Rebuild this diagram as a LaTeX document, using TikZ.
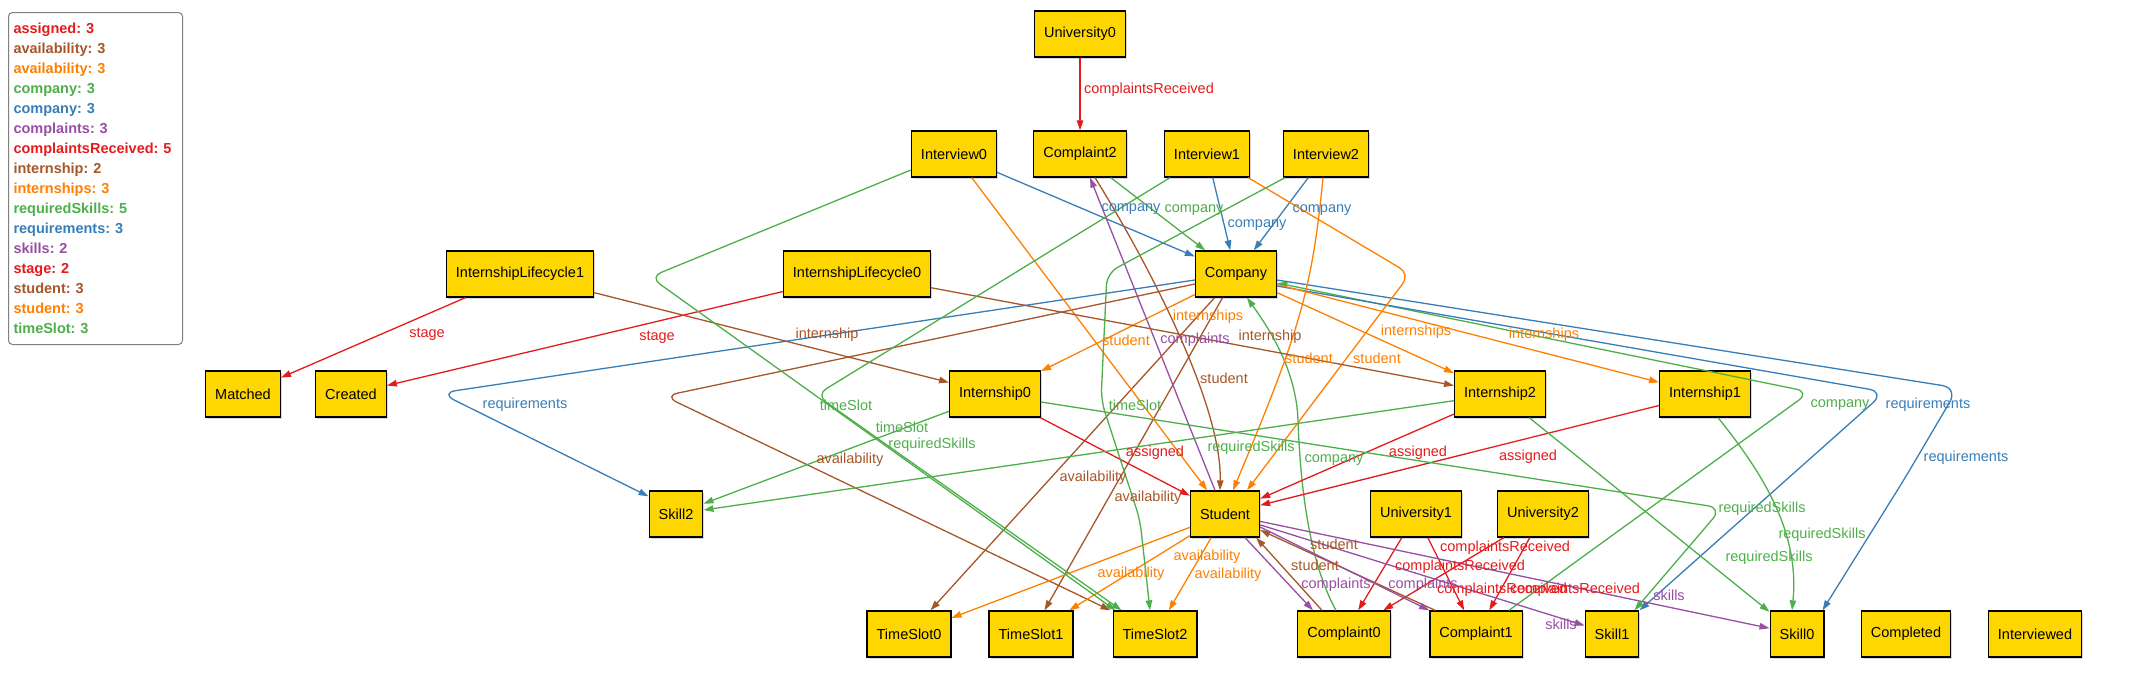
\documentclass[tikz,border=0pt]{standalone}
\usepackage{fontspec}
\setmainfont{Liberation Sans}
\usepackage{tikz}
\usetikzlibrary{arrows.meta, shadows}
\definecolor{cred}{HTML}{E41A1C}
\definecolor{cblue}{HTML}{377EB8}
\definecolor{cgreen}{HTML}{4DAF4A}
\definecolor{cpurple}{HTML}{984EA3}
\definecolor{corange}{HTML}{FF7F00}
\definecolor{cbrown}{HTML}{A65628}
\definecolor{gold}{HTML}{FFD700}
\frenchspacing

\tikzset{
  ent/.style={draw=black, line width=1.3pt, fill=gold, minimum height=46pt, inner xsep=9.5pt,
    font=\fontsize{14.5}{17}\selectfont,
    drop shadow={shadow xshift=1.5pt, shadow yshift=-1.5pt, opacity=0.3}},
  rel/.style={line width=1.3pt, -{Triangle[length=10pt,width=6.5pt]}},
  lbl/.style={inner sep=0pt, font=\fontsize{14.5}{17}\selectfont},
}

\begin{document}
\begin{tikzpicture}[x=1pt, y=-1pt]
    \useasboundingbox (0,0) rectangle (2140,680);

    % legend
    \node[draw=gray, line width=1pt, rounded corners=4pt, anchor=north west,
      minimum width=174pt, minimum height=332pt, text width=164pt, inner xsep=5pt,
      align=left, font=\fontsize{14.5}{20}\selectfont\bfseries] (legend) at (8,12) {%
      \textcolor{cred}{assigned: 3}\\
      \textcolor{cbrown}{availability: 3}\\
      \textcolor{corange}{availability: 3}\\
      \textcolor{cgreen}{company: 3}\\
      \textcolor{cblue}{company: 3}\\
      \textcolor{cpurple}{complaints: 3}\\
      \textcolor{cred}{complaintsReceived: 5}\\
      \textcolor{cbrown}{internship: 2}\\
      \textcolor{corange}{internships: 3}\\
      \textcolor{cgreen}{requiredSkills: 5}\\
      \textcolor{cblue}{requirements: 3}\\
      \textcolor{cpurple}{skills: 2}\\
      \textcolor{cred}{stage: 2}\\
      \textcolor{cbrown}{student: 3}\\
      \textcolor{corange}{student: 3}\\
      \textcolor{cgreen}{timeSlot: 3}};

    % objects
    \node[ent] (U0) at (1080,34) {University0};
    \node[ent] (Iv0) at (954,154) {Interview0};
    \node[ent] (C2) at (1080,154) {Complaint2};
    \node[ent] (Iv1) at (1207,154) {Interview1};
    \node[ent] (Iv2) at (1326,154) {Interview2};
    \node[ent] (IL1) at (520,274) {InternshipLifecycle1};
    \node[ent] (IL0) at (857,274) {InternshipLifecycle0};
    \node[ent] (Co) at (1236,274) {Company};
    \node[ent] (Mt) at (243,394) {Matched};
    \node[ent] (Cr) at (351,394) {Created};
    \node[ent] (In0) at (995,394) {Internship0};
    \node[ent] (In2) at (1500,394) {Internship2};
    \node[ent] (In1) at (1705,394) {Internship1};
    \node[ent] (Sk2) at (676,514) {Skill2};
    \node[ent] (St) at (1225,514) {Student};
    \node[ent] (U1) at (1416,514) {University1};
    \node[ent] (U2) at (1543,514) {University2};
    \node[ent] (T0) at (909,634) {TimeSlot0};
    \node[ent] (T1) at (1031,634) {TimeSlot1};
    \node[ent] (T2) at (1155,634) {TimeSlot2};
    \node[ent] (C0) at (1344,634) {Complaint0};
    \node[ent] (C1) at (1476,634) {Complaint1};
    \node[ent] (Sk1) at (1612,634) {Skill1};
    \node[ent] (Sk0) at (1797,634) {Skill0};
    \node[ent] (Cp) at (1906,634) {Completed};
    \node[ent] (Ivd) at (2035,634) {Interviewed};

    % complaintsReceived
    \draw[rel, cred] (U0) -- (C2);
    \draw[rel, cred] (U1) -- (C0);
    \draw[rel, cred] (U1) -- (C1);
    \draw[rel, cred] (U2) -- (C0);
    \draw[rel, cred] (U2) -- (C1);

    % company
    \draw[rel, cblue] (Iv0) -- (Co);
    \draw[rel, cblue] (Iv1) -- (Co);
    \draw[rel, cblue] (Iv2) -- (Co);
    \draw[rel, cgreen] (C2) -- (Co);
    \draw[rel, cgreen] ([xshift=-8pt]C0.north) .. controls (1308,560) and (1300,480) .. (1298,420)
      .. controls (1296,370) and (1270,330) .. ([xshift=11pt]Co.south);
    \draw[rel, cgreen, rounded corners=14pt] ([xshift=-14pt]C1.north east) -- (1810,392) -- ([yshift=-9pt]Co.east);

    % requirements
    \draw[rel, cblue, rounded corners=16pt] ([yshift=-6pt]Co.east) -- (1958,388) -- (1905,478) -- ([xshift=-2pt]Sk0.north east);
    \draw[rel, cblue, rounded corners=16pt] ([yshift=-12pt]Co.east) -- (1885,392) -- (Sk1.north east);
    \draw[rel, cblue, rounded corners=16pt] ([yshift=-6pt]Co.west) -- (440,393) -- ([yshift=-6pt]Sk2.north west);

    % availability
    \draw[rel, cbrown, rounded corners=14pt] ([yshift=-10pt]Co.west) -- (664,396) -- ([xshift=-2pt]T2.north west);
    \draw[rel, cbrown] (Co) -- (T0);
    \draw[rel, cbrown] (Co) -- (T1);
    \draw[rel, corange] (St) -- (T0);
    \draw[rel, corange] (St) -- (T1);
    \draw[rel, corange] (St) -- (T2);

    % internships
    \draw[rel, corange] (Co) -- (In0);
    \draw[rel, corange] (Co) -- (In2);
    \draw[rel, corange] (Co) -- (In1);

    % student
    \draw[rel, corange] (Iv0) -- (St);
    \draw[rel, corange] ([xshift=-3pt]Iv2.south) .. controls (1312,290) and (1300,330) .. ([xshift=8pt]St.north);
    \draw[rel, corange, rounded corners=12pt] ([xshift=-2pt]Iv1.south east) -- (1410,274) -- ([xshift=22pt]St.north);
    \draw[rel, cbrown] ([xshift=15pt]C2.south) .. controls (1140,250) and (1222,400) .. ([xshift=-5pt]St.north);
    \draw[rel, cbrown] ([xshift=-22pt]C0.north) -- ([xshift=-4pt]St.south east);
    \draw[rel, cbrown] ([xshift=6pt]C1.north west) -- ([yshift=-16pt]St.east);

    % complaints
    \draw[rel, cpurple] ([xshift=-10pt]St.north) -- ([xshift=10pt]C2.south);
    \draw[rel, cpurple] ([xshift=20pt]St.south) -- ([xshift=-31pt]C0.north);
    \draw[rel, cpurple] ([yshift=-13pt]St.east) -- (C1.north west);

    % skills
    \draw[rel, cpurple] (St) -- (Sk1);
    \draw[rel, cpurple] (St) -- (Sk0);

    % assigned
    \draw[rel, cred] (In0) -- (St);
    \draw[rel, cred] (In2) -- (St);
    \draw[rel, cred] (In1) -- (St);

    % stage, internship
    \draw[rel, cred] (IL1) -- (Mt);
    \draw[rel, cred] (IL0) -- (Cr);
    \draw[rel, cbrown] (IL1) -- (In0);
    \draw[rel, cbrown] (IL0) -- (In2);

    % timeSlot
    \draw[rel, cgreen, rounded corners=12pt] ([yshift=-16pt]Iv0.west) -- (650,277) -- ([xshift=3pt]T2.north west);
    \draw[rel, cgreen, rounded corners=12pt] ([xshift=-37pt]Iv1.south) -- (816,395) -- ([xshift=9pt]T2.north west);
    \draw[rel, cgreen, rounded corners=12pt] ([xshift=-41pt]Iv2.south) -- (1107,273) -- (1101,400) -- (1140,520) -- ([xshift=-5pt]T2.north);

    % requiredSkills
    \draw[rel, cgreen] (In0) -- (Sk2);
    \draw[rel, cgreen] (In2) -- (Sk2);
    \draw[rel, cgreen, rounded corners=14pt] ([yshift=-8pt]In0.east) -- (1722,508) -- ([xshift=-5pt]Sk1.north east);
    \draw[rel, cgreen] (In2) -- (Sk0);
    \draw[rel, cgreen] ([xshift=13pt]In1.south) .. controls (1760,470) and (1800,530) .. ([xshift=-5pt]Sk0.north);

    % labels
    \node[lbl, cred] (l1) at (1149,90) {complaintsReceived};
    \node[lbl, cred] (l2) at (1505,548) {complaintsReceived};
    \node[lbl, cred] (l3) at (1460,567) {complaintsReceived};
    \node[lbl, cred] (l4) at (1502,590) {complaintsReceived};
    \node[lbl, cred] (l5) at (1575,590) {complaintsReceived};
    \node[lbl, cblue] (l6) at (1131,209) {company};
    \node[lbl, cblue] (l7) at (1257,225) {company};
    \node[lbl, cblue] (l8) at (1322,210) {company};
    \node[lbl, cgreen] (l9) at (1194,210) {company};
    \node[lbl, cgreen] (l10) at (1334,460) {company};
    \node[lbl, cgreen] (l11) at (1840,405) {company};
    \node[lbl, corange] (l12) at (1208,317) {internships};
    \node[lbl, corange] (l13) at (1416,332) {internships};
    \node[lbl, corange] (l14) at (1544,335) {internships};
    \node[lbl, corange] (l15) at (1126,340) {student};
    \node[lbl, corange] (l16) at (1309,358) {student};
    \node[lbl, corange] (l17) at (1377,358) {student};
    \node[lbl, cpurple] (l18) at (1195,340) {complaints};
    \node[lbl, cpurple] (l19) at (1336,585) {complaints};
    \node[lbl, cpurple] (l20) at (1423,585) {complaints};
    \node[lbl, cbrown] (l21) at (827,335) {internship};
    \node[lbl, cbrown] (l22) at (1270,337) {internship};
    \node[lbl, cbrown] (l23) at (1224,378) {student};
    \node[lbl, cbrown] (l24) at (1334,544) {student};
    \node[lbl, cbrown] (l25) at (1315,565) {student};
    \node[lbl, cred] (l26) at (427,334) {stage};
    \node[lbl, cred] (l27) at (657,337) {stage};
    \node[lbl, cblue] (l28) at (525,405) {requirements};
    \node[lbl, cblue] (l29) at (1928,405) {requirements};
    \node[lbl, cblue] (l30) at (1966,458) {requirements};
    \node[lbl, cgreen] (l31) at (846,405) {timeSlot};
    \node[lbl, cgreen] (l32) at (902,427) {timeSlot};
    \node[lbl, cgreen] (l33) at (1135,405) {timeSlot};
    \node[lbl, cgreen] (l34) at (932,445) {requiredSkills};
    \node[lbl, cgreen] (l35) at (1251,448) {requiredSkills};
    \node[lbl, cgreen] (l36) at (1762,509) {requiredSkills};
    \node[lbl, cgreen] (l37) at (1769,558) {requiredSkills};
    \node[lbl, cgreen] (l38) at (1822,535) {requiredSkills};
    \node[lbl, cred] (l39) at (1155,453) {assigned};
    \node[lbl, cred] (l40) at (1418,453) {assigned};
    \node[lbl, cred] (l41) at (1528,457) {assigned};
    \node[lbl, cbrown] (l42) at (1093,478) {availability};
    \node[lbl, cbrown] (l43) at (1148,498) {availability};
    \node[lbl, cbrown] (l44) at (850,460) {availability};
    \node[lbl, corange] (l45) at (1131,574) {availability};
    \node[lbl, corange] (l46) at (1207,557) {availability};
    \node[lbl, corange] (l47) at (1228,575) {availability};
    \node[lbl, cpurple] (l48) at (1561,624) {skills};
    \node[lbl, cpurple] (l49) at (1669,595) {skills};
\end{tikzpicture}
\end{document}
